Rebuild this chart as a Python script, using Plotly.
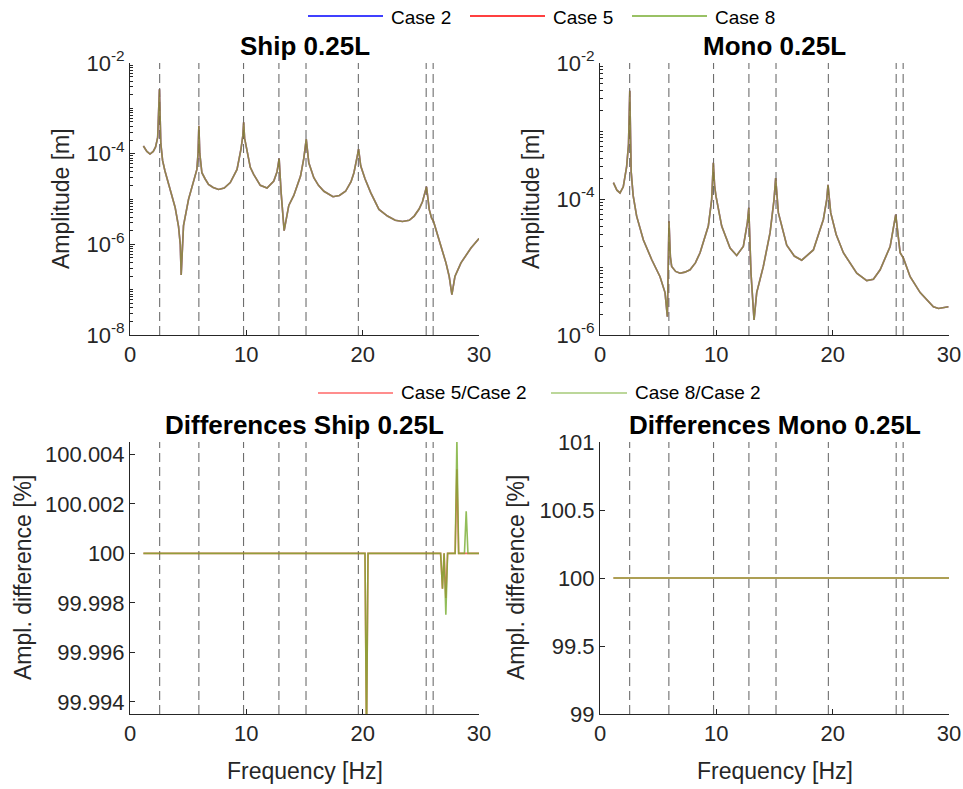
import plotly.graph_objects as go

# ---------------- data ----------------
# Natural frequencies (dashed vertical lines), Hz
nat_freqs = [2.55, 5.92, 9.76, 12.8, 15.13, 19.63, 25.46, 26.06]

# Ship 0.25L amplitude [m]; cases 2, 5 and 8 coincide to within 0.006 %
ship_freq = [1.15, 1.45, 1.72, 2.0, 2.2, 2.38, 2.53, 2.65, 2.8, 3.0, 3.45, 3.88, 4.17, 4.32,
             4.4, 4.6, 5.03, 5.46, 5.75, 5.85, 5.92, 6.0, 6.18, 6.45, 6.75, 7.15, 7.61, 8.1,
             8.62, 9.2, 9.54, 9.7, 9.77, 9.85, 10.06, 10.34, 10.63, 11.2, 11.78, 12.36, 12.64,
             12.82, 12.99, 13.25, 13.65, 14.08, 14.66, 14.94, 15.15, 15.37, 15.8, 16.2, 16.67,
             17.45, 18.0, 18.53, 19.0, 19.25, 19.54, 19.65, 19.83, 20.2, 20.69, 21.4, 22.13,
             22.8, 23.42, 24.0, 24.43, 24.85, 25.14, 25.34, 25.49, 25.72, 25.92, 26.09, 26.58,
             27.16, 27.44, 27.67, 27.93, 28.45, 29.31, 30.0]
ship_amp_case2 = [1.48e-4, 1.12e-4, 9.8e-5, 1.12e-4, 1.41e-4, 2.29e-4, 2.63e-3, 1.66e-4, 7.1e-5,
                  4.2e-5, 1.62e-5, 6.5e-6, 2.5e-6, 1.0e-6, 2.1e-7, 2.6e-6, 9.8e-6, 2.3e-5,
                  4.5e-5, 1.0e-4, 4.1e-4, 1.0e-4, 3.8e-5, 2.8e-5, 2.1e-5, 1.8e-5, 1.62e-5,
                  1.75e-5, 2.3e-5, 4.5e-5, 1.26e-4, 2.5e-4, 4.9e-4, 2.2e-4, 1.07e-4, 5.0e-5,
                  3.5e-5, 2.0e-5, 1.74e-5, 2.5e-5, 4.0e-5, 7.8e-5, 1.38e-5, 2.0e-6, 7.2e-6,
                  1.2e-5, 3.2e-5, 7.9e-5, 2.1e-4, 6.3e-5, 2.95e-5, 2.0e-5, 1.48e-5, 1.12e-5,
                  1.2e-5, 1.48e-5, 2.4e-5, 3.8e-5, 8.9e-5, 1.26e-4, 5.4e-5, 2.8e-5, 1.38e-5,
                  5.9e-6, 4.2e-6, 3.4e-6, 3.2e-6, 3.4e-6, 4.2e-6, 6.0e-6, 8.7e-6, 1.26e-5,
                  1.86e-5, 5.9e-6, 3.8e-6, 3.2e-6, 1.26e-6, 3.9e-7, 1.95e-7, 7.8e-8, 1.95e-7,
                  3.9e-7, 8.3e-7, 1.35e-6]
ship_amp_case5 = ship_amp_case2   # identical at plot resolution
ship_amp_case8 = ship_amp_case2   # identical at plot resolution

# Mono 0.25L amplitude [m]
mono_freq = [1.15, 1.45, 1.72, 2.0, 2.29, 2.45, 2.56, 2.68, 2.85, 3.15, 3.73, 4.44, 5.16, 5.59,
             5.79, 5.93, 6.05, 6.16, 6.5, 6.88, 7.3, 7.74, 8.2, 8.6, 9.31, 9.6, 9.74, 9.85,
             9.97, 10.46, 11.18, 11.75, 12.32, 12.67, 12.79, 12.98, 13.24, 13.47, 14.04, 14.62,
             14.96, 15.1, 15.33, 16.05, 16.7, 17.34, 18.34, 19.2, 19.49, 19.6, 19.83, 20.3,
             20.92, 22.07, 22.93, 23.5, 24.08, 24.94, 25.3, 25.42, 25.8, 26.08, 26.66, 27.52,
             28.66, 29.1, 29.95]
mono_amp_case2 = [1.74e-4, 1.35e-4, 1.23e-4, 1.51e-4, 3.0e-4, 6.3e-4, 3.9e-3, 2.5e-4, 1.12e-4,
                  5.6e-5, 2.5e-5, 1.29e-5, 7.2e-6, 4.2e-6, 1.86e-6, 4.7e-5, 1.41e-5, 1.02e-5,
                  8.6e-6, 8.1e-6, 8.4e-6, 9.1e-6, 1.15e-5, 1.62e-5, 4.0e-5, 9.8e-5, 3.4e-4,
                  1.58e-4, 1.1e-4, 4.0e-5, 1.9e-5, 1.48e-5, 2.0e-5, 4.5e-5, 7.4e-5, 8.1e-6,
                  1.66e-6, 4.2e-6, 1.02e-5, 3.2e-5, 9.8e-5, 2.04e-4, 6.3e-5, 2.1e-5, 1.45e-5,
                  1.26e-5, 1.78e-5, 5.0e-5, 9.8e-5, 1.62e-4, 6.3e-5, 3.0e-5, 1.62e-5, 8.1e-6,
                  6.3e-6, 6.6e-6, 9.1e-6, 2.0e-5, 4.5e-5, 5.9e-5, 1.62e-5, 1.35e-5, 7.2e-6,
                  4.2e-6, 2.6e-6, 2.45e-6, 2.6e-6]
mono_amp_case5 = mono_amp_case2
mono_amp_case8 = mono_amp_case2

# Amplitude ratios [%]
ship_diff_freq = [1.15, 20.2, 20.33, 20.46, 26.7, 26.86, 27.0, 27.15, 27.3, 27.95, 28.1,
                  28.25, 28.75, 28.9, 29.05, 30.0]
ship_ratio5 = [100, 100, 99.9925, 100, 100, 99.99857, 100, 99.9982, 100, 100, 100.0034,
               100, 100, 100, 100, 100]
ship_ratio8 = [100, 100, 99.9925, 100, 100, 99.99857, 100, 99.99752, 100, 100, 100.0046,
               100, 100, 100.0017, 100, 100]
mono_diff_freq = [1.15, 30.0]
mono_ratio5 = [100, 100]
mono_ratio8 = [100, 100]

x_ticks = [0, 10, 20, 30]
ship_log_ticks = [1e-8, 1e-6, 1e-4, 1e-2]
ship_log_text = ["10<sup>-8</sup>", "10<sup>-6</sup>", "10<sup>-4</sup>", "10<sup>-2</sup>"]
mono_log_ticks = [1e-6, 1e-4, 1e-2]
mono_log_text = ["10<sup>-6</sup>", "10<sup>-4</sup>", "10<sup>-2</sup>"]
ship_diff_ticks = [99.994, 99.996, 99.998, 100, 100.002, 100.004]
ship_diff_text = ["99.994", "99.996", "99.998", "100", "100.002", "100.004"]
mono_diff_ticks = [99, 99.5, 100, 100.5, 101]
mono_diff_text = ["99", "99.5", "100", "100.5", "101"]

legend_top_names = ["Case 2", "Case 5", "Case 8"]
legend_bot_names = ["Case 5/Case 2", "Case 8/Case 2"]

# ---------------- styling ----------------
W, H = 963, 789
FONT = "Liberation Sans, Arial, sans-serif"
AX = "#262626"
BLUE, RED, GREEN = "#0000FF", "#FF0000", "#77AC30"
BLUE_A = "rgba(0,0,255,0.5)"
RED_A = "rgba(255,0,0,0.5)"
GREEN_A = "rgba(119,172,48,0.65)"
RED_B = "rgba(255,0,0,0.6)"
GREEN_B = "rgba(119,172,48,0.8)"

def px_x(p):
    return p / W

def px_y(p):
    return 1 - p / H

dom_x_left = [px_x(130), px_x(479)]
dom_x_right = [px_x(600), px_x(949)]
dom_y_top = [px_y(335), px_y(63)]
dom_y_bot = [px_y(714), px_y(442)]

fig = go.Figure()

def add_lines(xs, ys, ax, colors, names, lw=1.6):
    for y, c, n in zip(ys, colors, names):
        fig.add_trace(go.Scatter(x=xs, y=y, mode="lines", line=dict(color=c, width=lw),
                                 xaxis="x" + ax, yaxis="y" + ax, showlegend=False,
                                 name=n))

add_lines(ship_freq, [ship_amp_case2, ship_amp_case5, ship_amp_case8], "",
          [BLUE_A, RED_A, GREEN_A], legend_top_names)
add_lines(mono_freq, [mono_amp_case2, mono_amp_case5, mono_amp_case8], "2",
          [BLUE_A, RED_A, GREEN_A], legend_top_names)
add_lines(ship_diff_freq, [ship_ratio5, ship_ratio8], "3", [RED_B, GREEN_B], legend_bot_names)
add_lines(mono_diff_freq, [mono_ratio5, mono_ratio8], "4", [RED_B, GREEN_B], legend_bot_names)

# dashed natural-frequency lines
shapes = []
for ax in ["x", "x2", "x3", "x4"]:
    yr = ax.replace("x", "y") + " domain"
    for f in nat_freqs:
        shapes.append(dict(type="line", xref=ax, yref=yr, x0=f, x1=f, y0=0, y1=1,
                           line=dict(color="rgba(85,85,85,0.85)", width=1.1, dash="9px,5px"),
                           layer="below"))

tickfont = dict(family=FONT, size=22, color=AX)

def xaxis(domain, anchor):
    return dict(domain=domain, anchor=anchor, range=[0, 30], tickvals=x_ticks,
                ticks="inside", ticklen=5, tickcolor=AX, showline=True, linecolor=AX,
                linewidth=1, showgrid=False, zeroline=False, tickfont=tickfont,
                automargin=False)

def yaxis_common(domain, anchor):
    return dict(domain=domain, anchor=anchor, ticks="inside", ticklen=5, tickcolor=AX,
                showline=True, linecolor=AX, linewidth=1, showgrid=False, zeroline=False,
                tickfont=tickfont, automargin=False)

ya1 = yaxis_common(dom_y_top, "x")
ya1.update(type="log", range=[-8, -2], tickvals=ship_log_ticks, ticktext=ship_log_text,
           minor=dict(ticks="inside", ticklen=3, tickcolor=AX, dtick="D1", showgrid=False))
ya2 = yaxis_common(dom_y_top, "x2")
ya2.update(type="log", range=[-6, -2], tickvals=mono_log_ticks, ticktext=mono_log_text,
           minor=dict(ticks="inside", ticklen=3, tickcolor=AX, dtick="D1", showgrid=False))
ya3 = yaxis_common(dom_y_bot, "x3")
ya3.update(range=[99.99351, 100.0045], tickvals=ship_diff_ticks, ticktext=ship_diff_text)
ya4 = yaxis_common(dom_y_bot, "x4")
ya4.update(range=[99, 101], tickvals=mono_diff_ticks, ticktext=mono_diff_text)

def ann(text, x, y, size, bold=False, angle=0, xanchor="center", color=None):
    return dict(text=("<b>%s</b>" % text) if bold else text, x=px_x(x), y=px_y(y),
                xref="paper", yref="paper", showarrow=False, textangle=angle,
                xanchor=xanchor, yanchor="middle",
                font=dict(family=FONT, size=size,
                          color=color or ("#000000" if bold else AX)))

annotations = [
    ann("Ship 0.25L", 304.5, 46, 26, bold=True),
    ann("Mono 0.25L", 774.5, 46, 26, bold=True),
    ann("Differences Ship 0.25L", 304.5, 425, 26, bold=True),
    ann("Differences Mono 0.25L", 774.5, 425, 26, bold=True),
    ann("Amplitude [m]", 61, 199, 23, angle=-90),
    ann("Amplitude [m]", 531, 199, 23, angle=-90),
    ann("Ampl. difference [%]", 23, 578, 23, angle=-90),
    ann("Ampl. difference [%]", 516, 578, 23, angle=-90),
    ann("Frequency [Hz]", 304.5, 771, 23),
    ann("Frequency [Hz]", 774.5, 771, 23),
]

# custom legends (long line samples as in the reference)
LEG_Y = 17
top_leg = [(308, 383, 389, BLUE), (470, 545, 551, RED), (632, 707, 713, GREEN)]
for (x0, x1, tx, c), name in zip(top_leg, legend_top_names):
    shapes.append(dict(type="line", xref="paper", yref="paper", x0=px_x(x0), x1=px_x(x1),
                       y0=px_y(16), y1=px_y(16), line=dict(color=c, width=1.3)))
    annotations.append(ann(name, tx, LEG_Y, 19, xanchor="left", color="#000000"))
bot_leg = [(318, 393, 399, "rgba(255,0,0,0.6)"), (551, 627, 633, "rgba(119,172,48,0.65)")]
for (x0, x1, tx, c), name in zip(bot_leg, legend_bot_names):
    shapes.append(dict(type="line", xref="paper", yref="paper", x0=px_x(x0), x1=px_x(x1),
                       y0=px_y(393), y1=px_y(393), line=dict(color=c, width=1.3)))
    annotations.append(ann(name, tx, 393, 19, xanchor="left", color="#000000"))

fig.update_layout(
    width=W, height=H, margin=dict(l=0, r=0, t=0, b=0),
    paper_bgcolor="white", plot_bgcolor="white",
    font=dict(family=FONT, color=AX),
    xaxis=xaxis(dom_x_left, "y"), yaxis=ya1,
    xaxis2=xaxis(dom_x_right, "y2"), yaxis2=ya2,
    xaxis3=xaxis(dom_x_left, "y3"), yaxis3=ya3,
    xaxis4=xaxis(dom_x_right, "y4"), yaxis4=ya4,
    shapes=shapes, annotations=annotations,
    showlegend=False,
)

# page without the browser's default body margin, so the figure fills the window
fig.write_html(
    "out.html",
    config={"displayModeBar": False},
    post_script=("document.body.style.margin='0';"
                 "document.documentElement.style.overflow='hidden';"
                 "document.body.style.overflow='hidden';"),
)
